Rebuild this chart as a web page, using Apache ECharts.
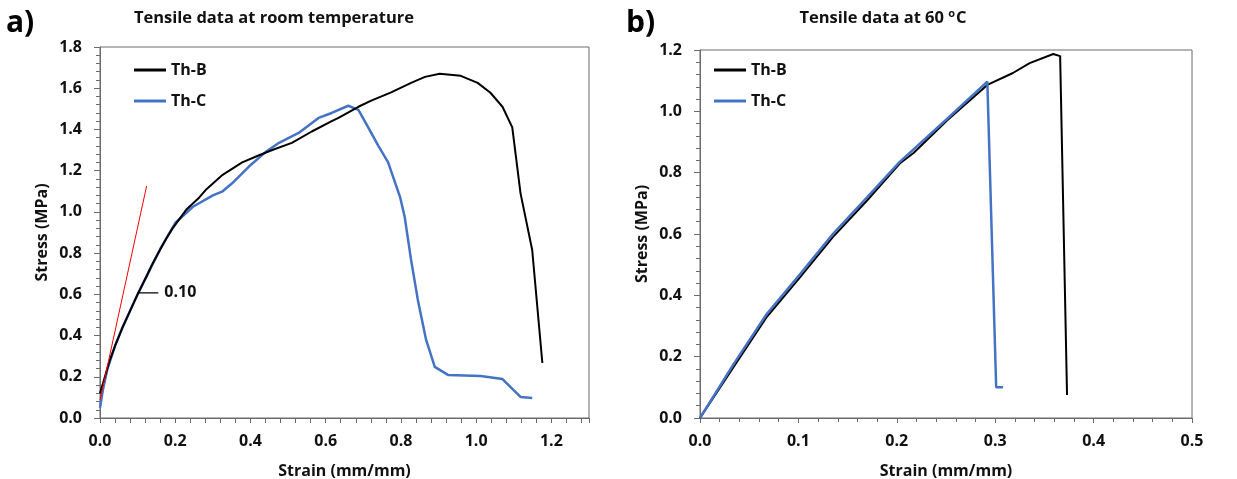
<!DOCTYPE html>
<html>
<head>
<meta charset="utf-8">
<script src="https://cdn.jsdelivr.net/npm/echarts@6/dist/echarts.min.js"></script>
<style>
html,body{margin:0;padding:0;background:#fff;}
#c{width:1237px;height:479px;}
</style>
</head>
<body>
<div id="c"></div>
<script>
// ---- data (strain mm/mm, stress MPa) ----
var roomThB = [[0,0.12],[0.013,0.2],[0.026,0.28],[0.04,0.35],[0.06,0.44],[0.08,0.52],[0.1,0.6],[0.127,0.7],[0.14,0.75],[0.158,0.81],[0.176,0.87],[0.193,0.92],[0.229,1.01],[0.264,1.07],[0.283,1.11],[0.326,1.18],[0.378,1.24],[0.423,1.275],[0.458,1.30],[0.51,1.335],[0.563,1.39],[0.616,1.44],[0.634,1.456],[0.687,1.51],[0.721,1.54],[0.774,1.58],[0.827,1.626],[0.864,1.655],[0.903,1.67],[0.959,1.66],[1.004,1.626],[1.038,1.578],[1.07,1.51],[1.096,1.41],[1.118,1.09],[1.149,0.815],[1.176,0.267]];
var roomThC = [[0,0.05],[0.008,0.14],[0.02,0.24],[0.04,0.35],[0.06,0.44],[0.08,0.52],[0.1,0.6],[0.13,0.71],[0.16,0.82],[0.2,0.946],[0.247,1.025],[0.3,1.08],[0.326,1.10],[0.352,1.14],[0.396,1.22],[0.44,1.29],[0.476,1.335],[0.528,1.383],[0.581,1.456],[0.616,1.48],[0.66,1.515],[0.687,1.495],[0.713,1.41],[0.74,1.32],[0.766,1.24],[0.798,1.07],[0.81,0.976],[0.827,0.767],[0.845,0.573],[0.867,0.379],[0.89,0.248],[0.925,0.209],[1.012,0.204],[1.07,0.189],[1.118,0.102],[1.149,0.097]];
var hotThB = [[0,0],[0.034,0.166],[0.068,0.33],[0.102,0.46],[0.135,0.59],[0.17,0.71],[0.203,0.83],[0.217,0.864],[0.251,0.97],[0.292,1.086],[0.318,1.125],[0.335,1.157],[0.359,1.187],[0.366,1.18],[0.373,0.075]];
var hotThC = [[0,0],[0.034,0.175],[0.068,0.34],[0.102,0.47],[0.135,0.60],[0.17,0.72],[0.203,0.835],[0.251,0.975],[0.292,1.097],[0.301,0.10],[0.308,0.10]];
var slopeLine = [[0,0.087],[0.124,1.126]];
var slopeLeader = [[0.1,0.607],[0.155,0.607]];
var slopeLabelText = '0.10';
var seriesNames = ['Th-B','Th-C'];
var panelTitles = ['Tensile data at room temperature','Tensile data at 60 '];
var panelTags = ['a)','b)'];
var axisNames = ['Strain (mm/mm)','Stress (MPa)'];

var FONT = '"Open Sans", sans-serif';
var AX = '#6b6b6b';
var TXT = '#111';
var BLUE = '#4472C4';
var lbl = function(v){ return v.toFixed(1); };
var lblStep = function(step){ return function(v){ var r=v/step; return Math.abs(r-Math.round(r))<1e-6 ? v.toFixed(1) : ''; }; };

function yAxis(idx, max){
  return {type:'value', gridIndex:idx, min:0, max:max, interval:0.2,
    name:axisNames[1], nameLocation:'middle', nameGap:50, nameRotate:90,
    nameTextStyle:{fontFamily:FONT, fontWeight:'bold', fontSize:16, color:TXT},
    axisLine:{show:true, lineStyle:{color:AX, width:1}},
    axisTick:{show:true, inside:false, length:6, lineStyle:{color:AX}},
    minorTick:{show:true, splitNumber:5, length:4, lineStyle:{color:AX}},
    splitLine:{show:false},
    axisLabel:{formatter:lbl, fontFamily:FONT, fontWeight:'bold', fontSize:16, color:TXT, margin:18}};
}
function xAxis(idx, max, interval, labelStep, minor){
  var a = {type:'value', gridIndex:idx, min:0, max:max, interval:interval,
    name:axisNames[0], nameLocation:'middle', nameGap:45,
    nameTextStyle:{fontFamily:FONT, fontWeight:'bold', fontSize:16, color:TXT},
    axisLine:{show:true, onZero:false, lineStyle:{color:AX, width:1}},
    axisTick:{show:true, inside:false, length:5, lineStyle:{color:AX}},
    splitLine:{show:false},
    axisLabel:{formatter:labelStep?lblStep(labelStep):lbl, fontFamily:FONT, fontWeight:'bold', fontSize:16, color:TXT, margin:15, showMaxLabel:true}};
  if (minor) a.minorTick = {show:true, splitNumber:5, length:4, lineStyle:{color:AX}};
  return a;
}
function legend(left){
  return {orient:'vertical', left:left, top:55, itemWidth:32, itemHeight:3, itemGap:11, icon:'rect',
    data:seriesNames, textStyle:{fontFamily:FONT, fontWeight:'bold', fontSize:16, color:TXT, lineHeight:20}};
}

var chart = echarts.init(document.getElementById('c'), null, {renderer:'canvas'});
chart.setOption({
  animation:false,
  backgroundColor:'#fff',
  grid:[
    {left:100, top:47, width:489, height:371, show:true, borderColor:AX, borderWidth:1, backgroundColor:'transparent', containLabel:false, outerBoundsMode:'none'},
    {left:700, top:50, width:492, height:368, show:true, borderColor:AX, borderWidth:1, backgroundColor:'transparent', containLabel:false, outerBoundsMode:'none'}
  ],
  legend:[legend(129), legend(709)],
  xAxis:[ xAxis(0, 1.3, 0.04, 0.2, false), xAxis(1, 0.5, 0.1, 0, true) ],
  yAxis:[ yAxis(0, 1.8), yAxis(1, 1.2) ],
  graphic:[
    {type:'text', left:6, top:8, style:{text:panelTags[0], font:'bold 30px '+FONT, fill:'#000'}},
    {type:'text', left:626, top:8, style:{text:panelTags[1], font:'bold 30px '+FONT, fill:'#000'}},
    {type:'text', x:274, y:18, style:{text:panelTitles[0], font:'bold 16.5px '+FONT, fill:TXT, align:'center', verticalAlign:'middle'}},
    {type:'text', x:883, y:18, style:{text:'{m|'+panelTitles[1]+'}{s|o}{m|C}', align:'center', verticalAlign:'middle',
      rich:{m:{font:'bold 16.5px '+FONT, fill:TXT}, s:{font:'bold 11px '+FONT, fill:TXT, padding:[0,1,8,0]}}}}
  ],
  series:[
    {name:seriesNames[1], type:'line', xAxisIndex:0, yAxisIndex:0, data:roomThC, showSymbol:false, symbol:'none', smooth:false,
      lineStyle:{color:BLUE, width:2.5}, itemStyle:{color:BLUE}, z:2},
    {name:seriesNames[0], type:'line', xAxisIndex:0, yAxisIndex:0, data:roomThB, showSymbol:false, symbol:'none',
      lineStyle:{color:'#000', width:2}, itemStyle:{color:'#000'}, z:3},
    {name:'slope', type:'line', xAxisIndex:0, yAxisIndex:0, data:slopeLine, showSymbol:false, symbol:'none',
      lineStyle:{color:'#ff0000', width:1}, z:4, silent:true},
    {name:'leader', type:'line', xAxisIndex:0, yAxisIndex:0, data:slopeLeader, showSymbol:false, symbol:'none',
      lineStyle:{color:'#000', width:1.2}, z:4, silent:true,
      endLabel:{show:true, formatter:slopeLabelText, fontFamily:FONT, fontWeight:'bold', fontSize:16, color:TXT, distance:6}},
    {name:seriesNames[0], type:'line', xAxisIndex:1, yAxisIndex:1, data:hotThB, showSymbol:false, symbol:'none',
      lineStyle:{color:'#000', width:2}, itemStyle:{color:'#000'}, z:2},
    {name:seriesNames[1], type:'line', xAxisIndex:1, yAxisIndex:1, data:hotThC, showSymbol:false, symbol:'none',
      lineStyle:{color:BLUE, width:2.5}, itemStyle:{color:BLUE}, z:3}
  ]
});
</script>
</body>
</html>
